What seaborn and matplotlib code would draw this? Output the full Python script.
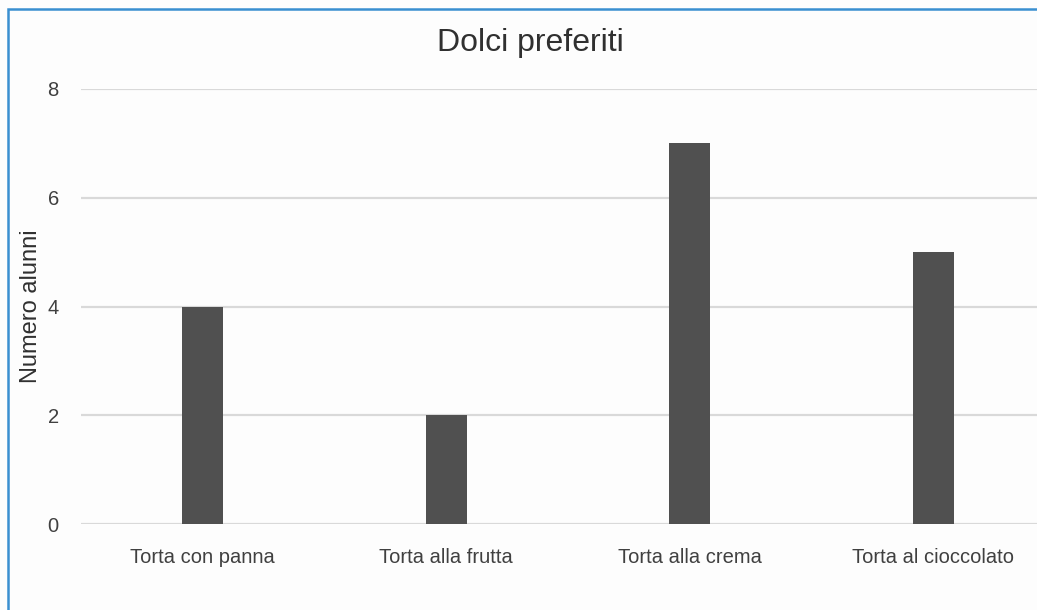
import matplotlib
matplotlib.use("Agg")
import matplotlib.pyplot as plt
import seaborn as sns
import pandas as pd
from matplotlib.patches import Rectangle

categories = ["Torta con panna", "Torta alla frutta", "Torta alla crema", "Torta al cioccolato"]
values = [4, 2, 7, 5]
yticks = [0, 2, 4, 6, 8]

sns.set_theme(style="white")
plt.rcParams['font.family'] = ['Liberation Sans', 'DejaVu Sans']

W, H = 1037, 610
fig = plt.figure(figsize=(W / 100, H / 100), dpi=100)
fig.patch.set_facecolor("#fdfdfd")

left, right = 81, 1055
top, bottom = 89, 524
ax = fig.add_axes([left / W, 1 - bottom / H, (right - left) / W, (bottom - top) / H])
ax.set_facecolor("#fdfdfd")

df = pd.DataFrame({"cat": categories, "val": values})
sns.barplot(data=df, x="cat", y="val", color="#505050", saturation=1, width=0.17,
            linewidth=0, ax=ax)

ax.set_ylim(0, 8)
ax.set_xlim(-0.5, len(categories) - 0.5)
ax.set_yticks(yticks)
ax.set_yticklabels([str(t) for t in yticks])
ax.yaxis.grid(True, color="#d9d9d9", linewidth=1.6)
ax.set_axisbelow(True)
for s in ax.spines.values():
    s.set_visible(False)
ax.tick_params(axis="x", length=0, labelsize=14.5, colors="#404040", pad=17)
ax.tick_params(axis="y", length=0, labelsize=14.5, colors="#404040", pad=16)
ax.set_xlabel("")
ax.set_ylabel("Numero alunni", fontsize=17, color="#303030")
ax.yaxis.set_label_coords(-(81 - 42) / (right - left), 0.5)

fig.text(530 / W, 1 - 43 / H, "Dolci preferiti", ha="center", va="center",
         fontsize=23, color="#303030")

fig.patches.append(Rectangle((8 / W, -0.1), 1.2, 1 - 9 / H + 0.1, transform=fig.transFigure,
                             fill=False, edgecolor="#3a8fd0", linewidth=1.8, figure=fig))

fig.savefig("out.png", dpi=100, facecolor=fig.get_facecolor())
